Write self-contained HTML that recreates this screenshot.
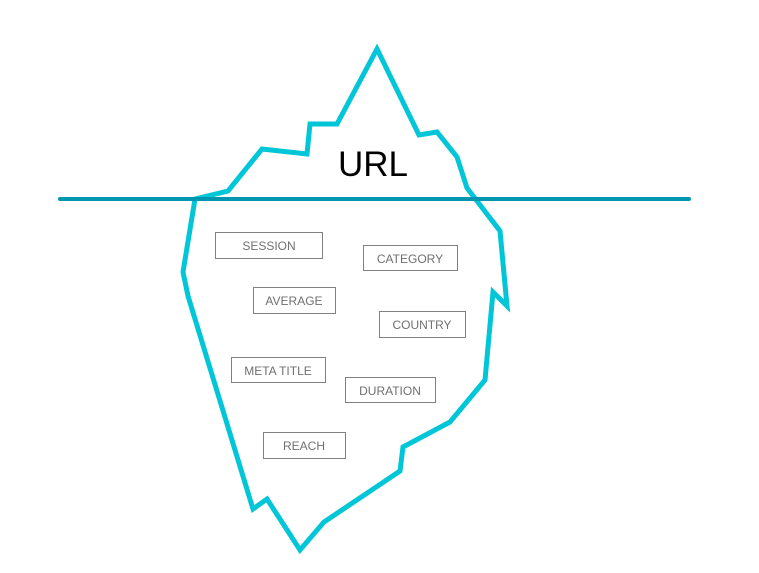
<!DOCTYPE html>
<html><head><style>
body{margin:0;background:#fff;}
svg{display:block;}
text{font-family:"Liberation Sans",sans-serif;}
.b{fill:#fff;stroke:#808080;stroke-width:1;}
.t{font-size:12px;fill:#707070;text-anchor:middle;}
</style></head><body>
<svg width="759" height="573" viewBox="0 0 759 573">
<polygon points="195,199 228,191 262,149 307,154 310,124 337,124 377,49 419,135 437,132 457,157 467,188 500,231 507,306 493,292 485,380 450,422 403,447 400,471 324,522 300,550 267,499 253,509 188,296 183,272" fill="none" stroke="#00c6d7" stroke-width="5" stroke-linejoin="miter"/>
<line x1="60" y1="199" x2="689" y2="199" stroke="#0096b0" stroke-width="4" stroke-linecap="round"/>
<text x="373" y="176" font-size="35" text-anchor="middle" fill="#000">URL</text>
<rect class="b" x="215.5" y="232.5" width="107" height="26"/><text class="t" x="269" y="250">SESSION</text>
<rect class="b" x="363.5" y="245.5" width="94" height="25"/><text class="t" x="410" y="263">CATEGORY</text>
<rect class="b" x="253.5" y="287.5" width="82" height="26"/><text class="t" x="294" y="305">AVERAGE</text>
<rect class="b" x="379.5" y="311.5" width="86" height="26"/><text class="t" x="422" y="329">COUNTRY</text>
<rect class="b" x="231.5" y="357.5" width="94" height="25"/><text class="t" x="278" y="375">META TITLE</text>
<rect class="b" x="345.5" y="377.5" width="90" height="25"/><text class="t" x="390" y="395">DURATION</text>
<rect class="b" x="263.5" y="432.5" width="82" height="26"/><text class="t" x="304" y="450">REACH</text>
</svg>
</body></html>
